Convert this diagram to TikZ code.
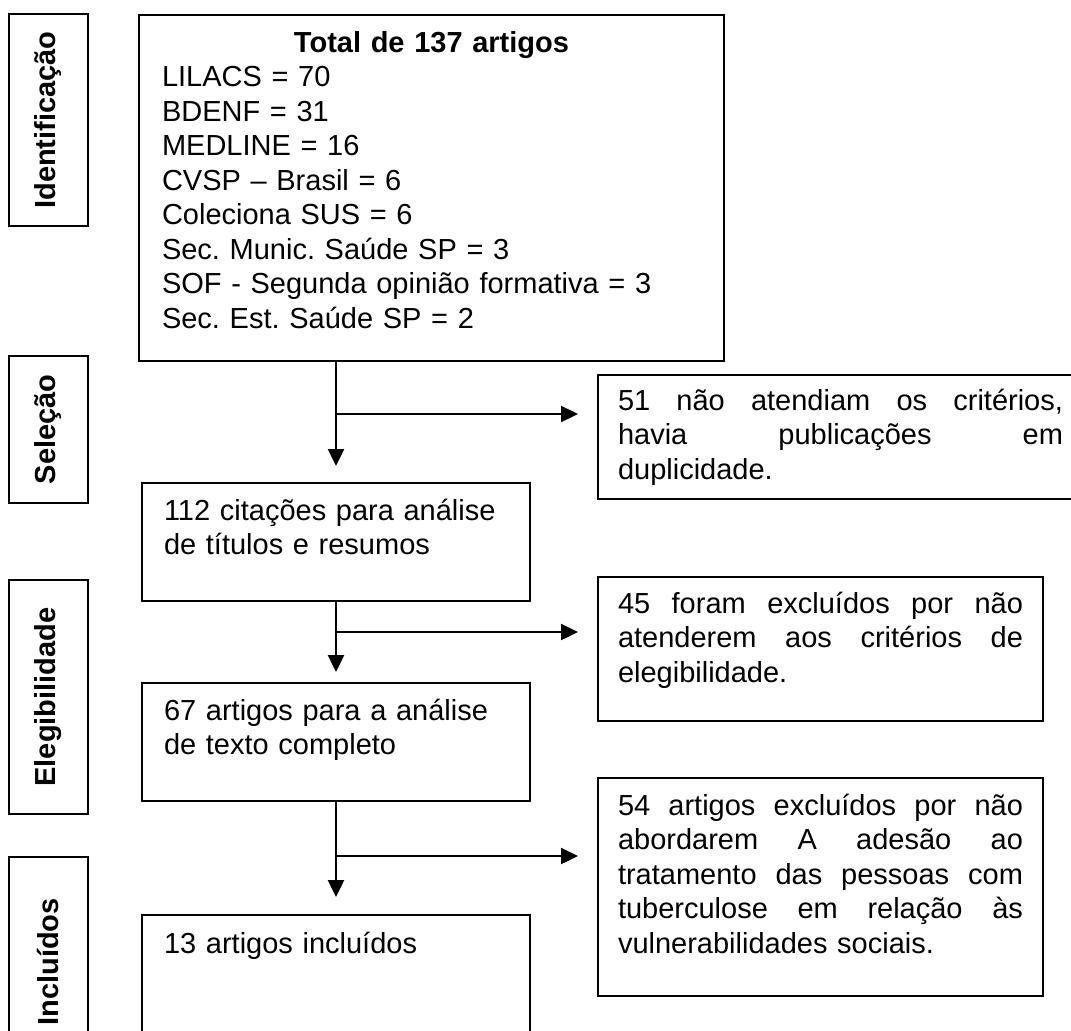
\documentclass[tikz,border=0pt]{standalone}
\usepackage{fontspec}
\setmainfont{Liberation Sans}
\frenchspacing
\usetikzlibrary{arrows.meta, positioning, calc}

\begin{document}
\begin{tikzpicture}[
	x=0.5pt, y=-0.5pt,
	% Styles des boites
	etape/.style={draw=black, line width=1pt, anchor=north west, outer sep=0pt, inner ysep=0pt, inner xsep=11pt, text width=172pt, align=left, font=\fontsize{14.5pt}{17.25pt}\selectfont},
	exclus/.style={etape, inner xsep=10pt, text width=202.5pt},
	phase/.style={draw=black, line width=1pt, rotate=90, inner sep=0pt, outer sep=0pt, minimum height=39.5pt, font=\fontsize{14.5pt}{17.25pt}\selectfont\bfseries},
	fleche/.style={-{Triangle[length=8.5pt, width=8pt]}, line width=1.2pt},
	]
	
	\useasboundingbox (0,0) rectangle (1071,1030);
	
	% Phases a gauche
	\node[phase, minimum width=106pt] (phaseA) at (48.5,120) {Identificação};
	\node[phase, minimum width=73.5pt] (phaseB) at (48.5,429.5) {Seleção};
	\node[phase, minimum width=117pt] (phaseC) at (48.5,697) {Elegibilidade};
	\node[phase, minimum width=105pt] (phaseD) at (48.5,962) {Incluídos};
	
	% Colonne centrale
	\node[etape, inner xsep=11.5pt, text width=269.5pt, text height=18.5pt, text depth=154.5pt] (total) at (139,15) {\hfill\textbf{Total de 137 artigos}\hfill\null\\ LILACS = 70\\ BDENF = 31\\ MEDLINE = 16\\ CVSP – Brasil = 6\\ Coleciona SUS = 6\\ Sec. Munic. Saúde SP = 3\\ SOF - Segunda opinião formativa = 3\\ Sec. Est. Saúde SP = 2};
	\node[etape, text height=18.5pt, text depth=40.5pt] (citacoes) at (142,483) {112 citações para análise\\ de títulos e resumos};
	\node[etape, text height=18.5pt, text depth=40.5pt] (textos) at (142,683) {67 artigos para a análise\\ de texto completo};
	\node[etape, text height=19pt, text depth=57pt] (incluidos) at (142,915) {13 artigos incluídos};
	
	% Colonne des exclusions
	\node[exclus, text width=222.5pt, text height=17.5pt, text depth=44.5pt] (exclusA) at (598,375) {51\hfill não\hfill atendiam\hfill os\hfill critérios,\\ havia\hfill publicações\hfill em\\ duplicidade.};
	\node[exclus, text height=18pt, text depth=54pt] (exclusB) at (598,577) {45\hfill foram\hfill excluídos\hfill por\hfill não\\ atenderem\hfill aos\hfill critérios\hfill de\\ elegibilidade.};
	\node[exclus, text height=18.5pt, text depth=90.5pt] (exclusC) at (598,778) {54\hfill artigos\hfill excluídos\hfill por\hfill não\\ abordarem\hfill A\hfill adesão\hfill ao\\ tratamento\hfill das\hfill pessoas\hfill com\\ tuberculose\hfill em\hfill relação\hfill às\\ vulnerabilidades sociais.};
	
	% Fleches
	\coordinate (brancheA) at ($(citacoes.north)+(0,-69)$);
	\coordinate (brancheB) at ($(citacoes.south)+(0,31)$);
	\coordinate (brancheC) at ($(textos.south)+(0,55)$);
	
	\draw[fleche, shorten >=8.5pt] (citacoes.north |- total.south) -- (citacoes.north);
	\draw[fleche, shorten >=5.5pt] (citacoes.south) -- (textos.north);
	\draw[fleche, shorten >=9pt] (textos.south) -- (incluidos.north);
	
	\draw[fleche, shorten >=10pt] (brancheA) -- (brancheA -| exclusA.west);
	\draw[fleche, shorten >=10pt] (brancheB) -- (brancheB -| exclusB.west);
	\draw[fleche, shorten >=10pt] (brancheC) -- (brancheC -| exclusC.west);
\end{tikzpicture}
\end{document}
